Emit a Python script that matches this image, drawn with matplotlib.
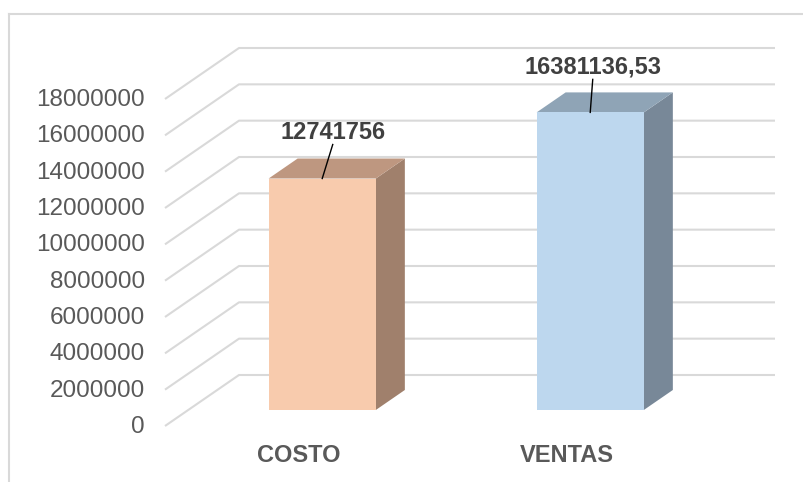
import matplotlib.pyplot as plt
from matplotlib.patches import Polygon

plt.rcParams['font.family'] = ['Liberation Sans', 'DejaVu Sans']

categorias = ['COSTO', 'VENTAS']
valores = [12741756, 16381136.53]
etiquetas = ['12741756', '16381136,53']
ticks = list(range(0, 18000001, 2000000))

# colores de cada barra: frente, techo, lado
frente = ['#F8CBAD', '#BDD7EE']
techo = ['#BE9780', '#8FA4B6']
lado = ['#A0806C', '#788898']

W, H = 804, 482
fig = plt.figure(figsize=(W / 100, H / 100), dpi=100)

# pared del fondo en pixeles
x0, x1 = 239, 775
y0, y1 = 375, 48
ax = fig.add_axes([x0 / W, (H - y0) / H, (x1 - x0) / W, (y0 - y1) / H])
ax.set_xlim(-0.5, 1.5)
ax.set_ylim(0, 18000000)
ax.axis('off')

# pixeles -> unidades de datos
ux = 2.0 / (x1 - x0)
uy = 18000000 / (y0 - y1)
Dx, Dy = -74 * ux, -51 * uy          # profundidad completa
t_atras, t_frente = 0.294, 0.686     # profundidad de la barra
ancho = 0.4

gris = '#D9D9D9'
for v in ticks:
    ax.plot([-0.5 + Dx, -0.5, 1.5], [v + Dy, v, v], color=gris, lw=1.5,
            clip_on=False, solid_capstyle='butt', zorder=1)
    ax.text(-0.5 + Dx - 20 * ux, v + Dy - 1 * uy, str(v), ha='right', va='center',
            fontsize=17.5, color='#595959')

for i, (c, v) in enumerate(zip(categorias, valores)):
    fx, fy = Dx * t_frente, Dy * t_frente
    bx, by = Dx * t_atras, Dy * t_atras
    l, r = i - ancho / 2, i + ancho / 2
    # lado
    ax.add_patch(Polygon([(r + fx, fy), (r + bx, by), (r + bx, v + by), (r + fx, v + fy)],
                         closed=True, fc=lado[i], ec='none', clip_on=False, zorder=3))
    # techo
    ax.add_patch(Polygon([(l + fx, v + fy), (l + bx, v + by), (r + bx, v + by), (r + fx, v + fy)],
                         closed=True, fc=techo[i], ec='none', clip_on=False, zorder=3))
    # frente
    ax.add_patch(Polygon([(l + fx, fy), (r + fx, fy), (r + fx, v + fy), (l + fx, v + fy)],
                         closed=True, fc=frente[i], ec='none', clip_on=False, zorder=4))
    # etiqueta de datos con linea guia
    off = [(10.5, 46), (2.5, 45)][i]
    ax.annotate(etiquetas[i], xy=(i + fx, v + fy), xytext=off, textcoords='offset pixels',
                ha='center', va='center', fontsize=17, fontweight='bold', color='#404040',
                annotation_clip=False, zorder=6)
    ax.plot([i + fx, i + fx + off[0] * ux], [v + fy, v + fy + (off[1] - 12) * uy],
            color='black', lw=1, clip_on=False, zorder=5)
    # categoria
    ax.text(i + Dx, Dy - 30 * uy, c, ha='center', va='center', fontsize=17,
            fontweight='bold', color='#595959')

# borde del grafico
fig.add_artist(plt.Line2D([9 / W, 1], [1 - 14 / H, 1 - 14 / H], color=gris, lw=1.5))
fig.add_artist(plt.Line2D([9 / W, 9 / W], [0, 1 - 14 / H], color=gris, lw=1.5))

fig.savefig('out.png', dpi=100)
